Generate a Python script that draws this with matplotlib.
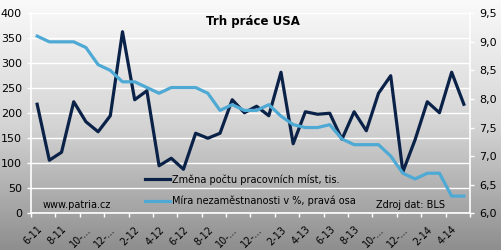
import numpy as np
import matplotlib
matplotlib.use("Agg")
import matplotlib.pyplot as plt

# mesice 6-11 .. 5-14
months = ["6-11", "7-11", "8-11", "9-11", "10-11", "11-11", "12-11", "1-12",
          "2-12", "3-12", "4-12", "5-12", "6-12", "7-12", "8-12", "9-12",
          "10-12", "11-12", "12-12", "1-13", "2-13", "3-13", "4-13", "5-13",
          "6-13", "7-13", "8-13", "9-13", "10-13", "11-13", "12-13", "1-14",
          "2-14", "3-14", "4-14", "5-14"]
tick_labels = ["6-11", "8-11", "10-...", "12-...", "2-12", "4-12", "6-12", "8-12",
               "10-...", "12-...", "2-13", "4-13", "6-13", "8-13", "10-...", "12-...",
               "2-14", "4-14"]

payrolls = [218, 106, 122, 223, 183, 163, 195, 363, 227, 245, 95, 110,
            88, 160, 150, 160, 227, 201, 214, 195, 282, 139, 203, 198,
            200, 148, 203, 165, 240, 275, 83, 147, 223, 201, 282, 218]
unemployment = [9.1, 9.0, 9.0, 9.0, 8.9, 8.6, 8.5, 8.3, 8.3, 8.2, 8.1, 8.2,
                8.2, 8.2, 8.1, 7.8, 7.9, 7.8, 7.8, 7.9, 7.7, 7.55, 7.5, 7.5,
                7.55, 7.3, 7.2, 7.2, 7.2, 7.0, 6.7, 6.6, 6.7, 6.7, 6.3, 6.3]

dark = "#0b2248"
light = "#4eaad4"

fig = plt.figure(figsize=(5.01, 2.5), dpi=100)

# pozadi s prechodem
bg = fig.add_axes([0, 0, 1, 1], zorder=-10)
grad = np.linspace(0, 1, 256).reshape(-1, 1)
cmap = matplotlib.colors.LinearSegmentedColormap.from_list("bg", ["#fafafa", "#d4d4d4", "#8e8e8e"])
bg.imshow(grad, aspect="auto", cmap=cmap, extent=[0, 1, 0, 1])
bg.axis("off")

ax = fig.add_axes([0.062, 0.147, 0.876, 0.8])
ax.set_facecolor("none")
x = np.arange(len(months))
ax.plot(x, payrolls, color=dark, lw=2.3, label="Změna počtu pracovních míst, tis.", zorder=3)
ax.set_xlim(-0.5, len(months) - 0.5)
ax.set_ylim(0, 400)
ax.set_yticks(range(0, 401, 50))
ax.grid(axis="y", color="white", lw=1)
ax.set_axisbelow(True)

ax2 = ax.twinx()
ax2.plot(x, unemployment, color=light, lw=2.3, label="Míra nezaměstnanosti v %, pravá osa", zorder=2)
ax2.set_ylim(6.0, 9.5)
ax2.set_yticks(np.arange(6.0, 9.51, 0.5))
ax2.set_yticklabels([f"{v:.1f}".replace(".", ",") for v in np.arange(6.0, 9.51, 0.5)])

for a in (ax, ax2):
    for s in a.spines.values():
        s.set_visible(False)
ax.spines["left"].set_visible(True)
ax.spines["bottom"].set_visible(True)
ax2.spines["right"].set_visible(True)
for s in (ax.spines["left"], ax.spines["bottom"], ax2.spines["right"]):
    s.set_color("white")
    s.set_linewidth(1.2)

ax.tick_params(axis="y", colors="white", labelcolor="black", labelsize=8, length=3, width=1)
ax2.tick_params(axis="y", colors="white", labelcolor="black", labelsize=8, length=3, width=1)

ax.set_xticks(x[::2])
ax.set_xticklabels(tick_labels, rotation=45, ha="right", va="top", fontsize=7,
                   rotation_mode="anchor")
ax.set_xticks(np.arange(-0.5, len(months), 2), minor=True)
ax.tick_params(axis="x", which="major", length=0, pad=8)
ax.tick_params(axis="x", which="minor", length=3, width=1, colors="white")

fig.text(0.505, 0.915, "Trh práce USA", ha="center", va="center", fontsize=8.5, fontweight="bold")

h1, l1 = ax.get_legend_handles_labels()
h2, l2 = ax2.get_legend_handles_labels()
leg = ax2.legend(h1 + h2, l1 + l2, loc="lower left", bbox_to_anchor=(0.24, -0.01),
                 frameon=False, fontsize=7, handlelength=2.6, labelspacing=1.15,
                 handletextpad=0.2)

fig.text(0.086, 0.18, "www.patria.cz", fontsize=7, ha="left", va="center")
fig.text(0.75, 0.18, "Zdroj dat: BLS", fontsize=7, ha="left", va="center")

fig.savefig("out.png", dpi=100)
